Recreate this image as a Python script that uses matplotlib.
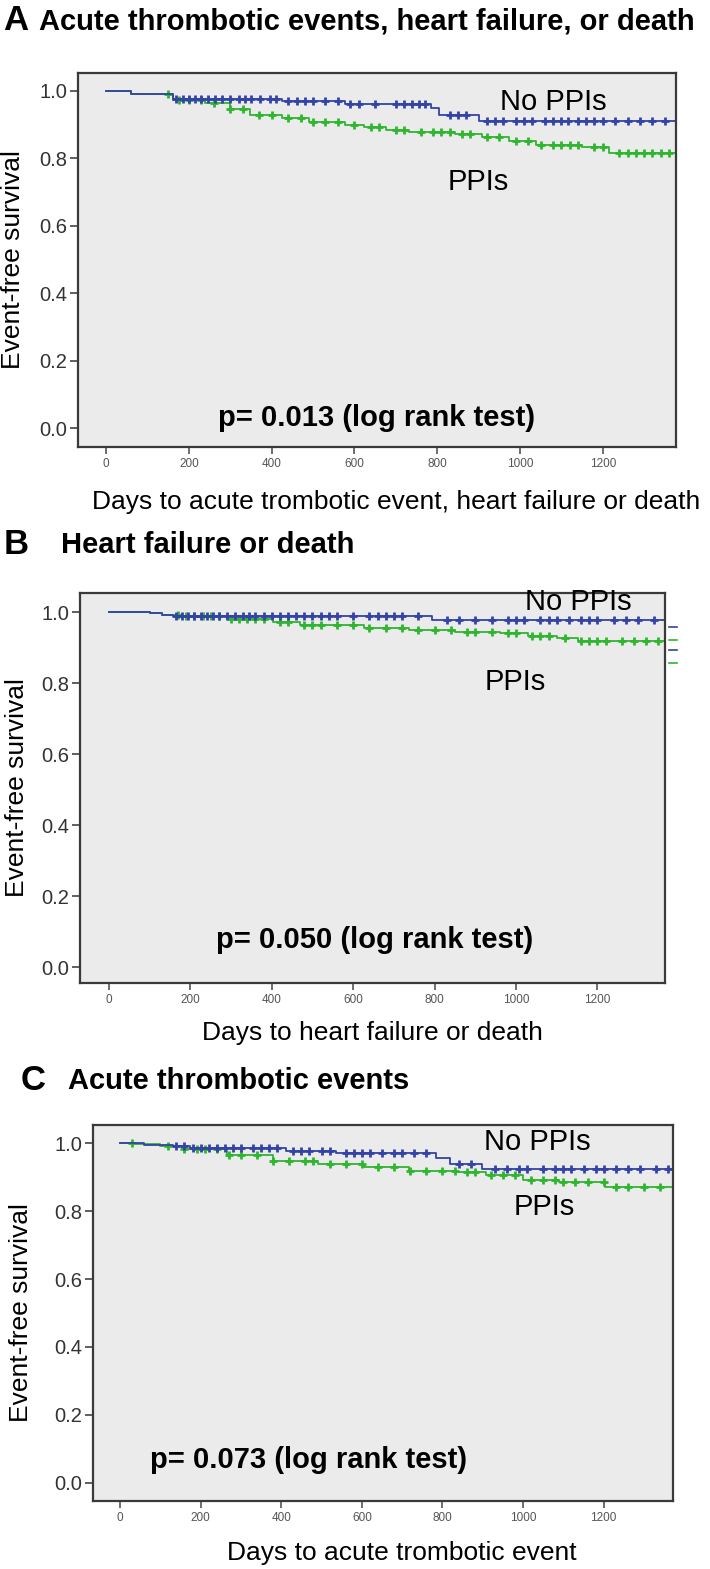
import numpy as np
import matplotlib.pyplot as plt
from matplotlib import font_manager

W, H = 710, 1569

# ---- data (days, event-free survival) ----
a_noppi_days = [0, 60, 161, 424, 578, 785, 805, 902]
a_noppi_surv = [1.0, 0.99, 0.976, 0.970, 0.961, 0.948, 0.927, 0.911]
a_ppi_days = [0, 60, 161, 238, 300, 348, 425, 491, 578, 622, 677, 732, 842, 908, 974, 1039, 1150, 1215]
a_ppi_surv = [1.0, 0.99, 0.973, 0.963, 0.945, 0.929, 0.919, 0.909, 0.899, 0.894, 0.884, 0.879, 0.871, 0.864, 0.850, 0.840, 0.835, 0.816]
a_noppi_cens = [170, 185, 200, 215, 230, 245, 262, 280, 300, 320, 335, 350, 372, 395, 410, 440, 460, 480, 500,
                530, 560, 590, 610, 650, 700, 720, 740, 755, 770, 830, 850, 870, 920, 940, 960, 990, 1010, 1030,
                1060, 1080, 1100, 1115, 1140, 1160, 1180, 1200, 1230, 1260, 1290, 1320, 1350]
a_ppi_cens = [150, 175, 200, 230, 260, 300, 330, 370, 400, 440, 470, 500, 530, 560, 600, 640, 660, 700, 720,
              760, 790, 810, 830, 860, 880, 920, 950, 990, 1020, 1050, 1080, 1100, 1120, 1140, 1180, 1200,
              1240, 1260, 1280, 1300, 1320, 1340, 1360]

b_noppi_days = [0, 100, 130, 158, 793]
b_noppi_surv = [1.0, 0.997, 0.993, 0.989, 0.977]
b_ppi_days = [0, 100, 130, 179, 290, 402, 469, 626, 737, 850, 960, 1030, 1100, 1152]
b_ppi_surv = [1.0, 0.997, 0.993, 0.989, 0.980, 0.973, 0.963, 0.956, 0.949, 0.944, 0.940, 0.932, 0.927, 0.918]
b_noppi_cens = [165, 180, 195, 210, 225, 240, 255, 270, 290, 310, 330, 345, 360, 380, 400, 420, 440, 460, 480,
                500, 520, 540, 560, 600, 640, 660, 680, 700, 720, 760, 830, 860, 900, 940, 980, 1000, 1020, 1060,
                1080, 1100, 1130, 1160, 1180, 1200, 1240, 1270, 1300, 1340]
b_ppi_cens = [170, 190, 210, 230, 250, 270, 300, 320, 340, 360, 380, 420, 440, 480, 500, 520, 560, 600, 640, 680,
              720, 760, 800, 840, 880, 900, 940, 980, 1000, 1040, 1060, 1080, 1120, 1160, 1180, 1200, 1220, 1260,
              1290, 1320, 1350]
b_side_vals = [0.958, 0.921, 0.893, 0.856]
b_side_cols = ['blue', 'green', 'blue', 'green']

c_noppi_days = [0, 60, 131, 174, 412, 537, 785, 819, 898]
c_noppi_surv = [1.0, 0.995, 0.991, 0.985, 0.976, 0.970, 0.956, 0.938, 0.924]
c_ppi_days = [0, 40, 100, 154, 266, 380, 491, 605, 717, 831, 908, 1000, 1089, 1203]
c_ppi_surv = [1.0, 0.998, 0.99, 0.982, 0.965, 0.947, 0.938, 0.929, 0.918, 0.915, 0.906, 0.891, 0.885, 0.871]
c_noppi_cens = [140, 160, 180, 200, 220, 240, 260, 280, 300, 330, 350, 370, 390, 430, 450, 470, 500, 520, 560,
                580, 600, 620, 650, 680, 700, 730, 760, 840, 870, 930, 960, 990, 1010, 1050, 1080, 1100, 1120,
                1150, 1180, 1200, 1230, 1260, 1290, 1330, 1360]
c_ppi_cens = [30, 120, 160, 190, 210, 240, 270, 300, 340, 380, 420, 460, 480, 520, 560, 600, 640, 680, 720, 760,
              800, 830, 860, 880, 920, 950, 980, 1020, 1050, 1080, 1100, 1130, 1160, 1200, 1230, 1260, 1300, 1340]

BLUE = '#3443a6'
GREEN = '#2fb52f'

avail = {f.name for f in font_manager.fontManager.ttflist}
narrow = 'Liberation Sans Narrow' if 'Liberation Sans Narrow' in avail else 'Liberation Sans'
plt.rcParams['font.family'] = ['Liberation Sans', 'DejaVu Sans']

TITLE_FS = 21
LABEL_FS = 19


def fx(x):
    return x / W


def fy(y):
    return 1 - y / H


def surv_at(days, surv, t):
    i = np.searchsorted(days, t, side='right') - 1
    return np.array(surv)[i]


def km(ax, days, surv, cens, color, xmax):
    ax.step(list(days) + [xmax], list(surv) + [surv[-1]], where='post', color=color, lw=1.3)
    ax.plot(cens, surv_at(days, surv, cens), ls='none', marker='+', ms=6, mew=2.0, color=color)


def panel(box, xlim, ylim, data, ptxt, ppos, lab_no, lab_ppi):
    l, t, r, b = box
    ax = fig.add_axes([fx(l), fy(b), fx(r - l), (b - t) / H])
    ax.set_facecolor('#ebebeb')
    for (d, s, c, col) in data:
        km(ax, d, s, c, col, xlim[1])
    ax.set_xlim(*xlim)
    ax.set_ylim(*ylim)
    ax.set_yticks([0.0, 0.2, 0.4, 0.6, 0.8, 1.0])
    ax.set_yticklabels(['0.0', '0.2', '0.4', '0.6', '0.8', '1.0'], fontsize=14.5, color='#333333',
                       family=narrow)
    ax.set_xticks([0, 200, 400, 600, 800, 1000, 1200])
    ax.set_xticklabels(['0', '200', '400', '600', '800', '1000', '1200'], fontsize=8.5, color='#555555')
    ax.tick_params(axis='y', length=6, width=1.2, color='#444444', pad=2)
    ax.tick_params(axis='x', length=5, width=1.2, color='#555555', pad=3)
    for sp in ax.spines.values():
        sp.set_color('#3a3a3a')
        sp.set_linewidth(1.6)
    ax.text(ppos[0], ppos[1], ptxt, transform=ax.transAxes, fontsize=21, fontweight='bold',
            family=narrow, ha='left', va='center')
    ax.text(lab_no[0], lab_no[1], 'No PPIs', transform=ax.transAxes, fontsize=21, ha='left', va='center')
    ax.text(lab_ppi[0], lab_ppi[1], 'PPIs', transform=ax.transAxes, fontsize=21, ha='left', va='center')
    return ax


fig = plt.figure(figsize=(W / 100, H / 100), dpi=100)

# Panel A
boxA = (78, 73, 676, 447)
axA = panel(boxA, (-68, 1377), (-0.056, 1.053),
            [(a_ppi_days, a_ppi_surv, a_ppi_cens, GREEN), (a_noppi_days, a_noppi_surv, a_noppi_cens, BLUE)],
            'p= 0.013 (log rank test)', ((218 - 78) / 598, (447 - 418) / 374),
            ((500 - 78) / 598, (447 - 102) / 374), ((448 - 78) / 598, (447 - 182) / 374))
fig.text(fx(3), fy(20), 'A', fontsize=25, fontweight='bold', va='center', ha='left')
fig.text(fx(39), fy(21), 'Acute thrombotic events, heart failure, or death', fontsize=TITLE_FS,
         fontweight='bold', family=narrow, va='center', ha='left')
fig.text(fx(92), fy(502), 'Days to acute trombotic event, heart failure or death', fontsize=LABEL_FS,
         va='center', ha='left')
fig.text(fx(13), fy(260), 'Event-free survival', fontsize=LABEL_FS, rotation=90, va='center', ha='center')

# Panel B
boxB = (80, 593, 665, 983)
axB = panel(boxB, (-71, 1366), (-0.045, 1.054),
            [(b_ppi_days, b_ppi_surv, b_ppi_cens, GREEN), (b_noppi_days, b_noppi_surv, b_noppi_cens, BLUE)],
            'p= 0.050 (log rank test)', ((216 - 80) / 585, (983 - 940) / 390),
            ((525 - 80) / 585, (983 - 602) / 390), ((485 - 80) / 585, (983 - 682) / 390))
for v, c in zip(b_side_vals, b_side_cols):
    axB.plot([1.007, 1.02], [v, v], transform=axB.get_yaxis_transform(), clip_on=False,
             color=BLUE if c == 'blue' else GREEN, lw=1.2)
fig.text(fx(4), fy(544), 'B', fontsize=25, fontweight='bold', va='center', ha='left')
fig.text(fx(61), fy(545), 'Heart failure or death', fontsize=TITLE_FS, fontweight='bold', family=narrow,
         va='center', ha='left')
fig.text(fx(202), fy(1033), 'Days to heart failure or death', fontsize=LABEL_FS, va='center', ha='left')
fig.text(fx(17), fy(788), 'Event-free survival', fontsize=LABEL_FS, rotation=90, va='center', ha='center')

# Panel C
boxC = (93, 1125, 673, 1501)
axC = panel(boxC, (-67, 1372), (-0.053, 1.053),
            [(c_ppi_days, c_ppi_surv, c_ppi_cens, GREEN), (c_noppi_days, c_noppi_surv, c_noppi_cens, BLUE)],
            'p= 0.073 (log rank test)', ((150 - 93) / 580, (1501 - 1460) / 376),
            ((484 - 93) / 580, (1501 - 1142) / 376), ((514 - 93) / 580, (1501 - 1207) / 376))
fig.text(fx(21), fy(1080), 'C', fontsize=25, fontweight='bold', va='center', ha='left')
fig.text(fx(68), fy(1081), 'Acute thrombotic events', fontsize=TITLE_FS, fontweight='bold', family=narrow,
         va='center', ha='left')
fig.text(fx(227), fy(1553), 'Days to acute trombotic event', fontsize=LABEL_FS, va='center', ha='left')
fig.text(fx(21), fy(1313), 'Event-free survival', fontsize=LABEL_FS, rotation=90, va='center', ha='center')

fig.savefig('out.png', dpi=100)
